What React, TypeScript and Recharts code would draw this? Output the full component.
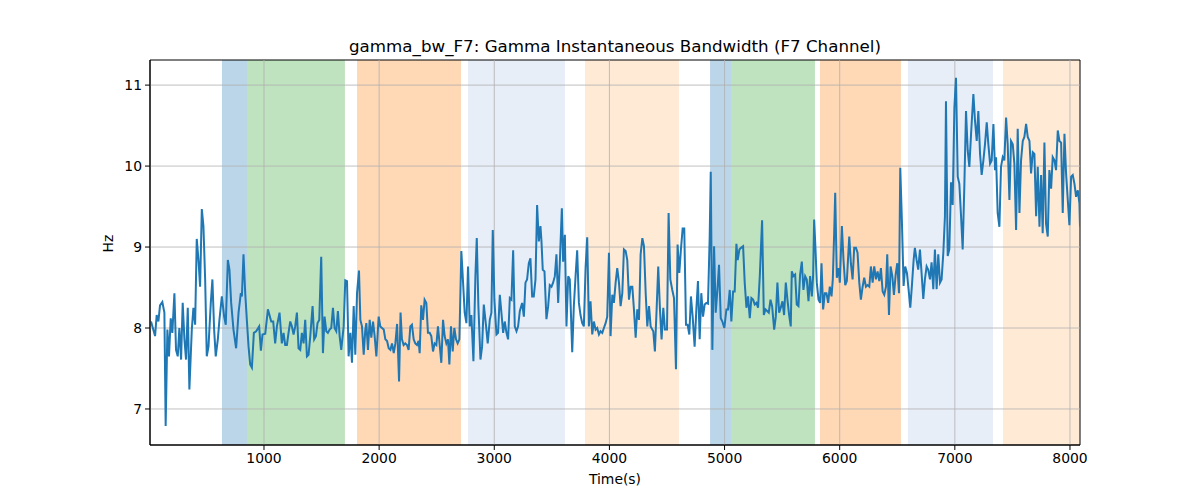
import React from "react";
import { LineChart, Line, XAxis, YAxis, ReferenceArea, ReferenceLine } from "recharts";

// tick labels
const timeTicks = [1000, 2000, 3000, 4000, 5000, 6000, 7000, 8000];
const hzTicks = [7, 8, 9, 10, 11];

// sample times (s)
const times = [
  19, 54, 68, 83, 97, 117, 135, 146, 161, 175, 190, 204, 222, 236, 251, 265, 280, 294, 309, 323,
  338, 352, 373, 387, 402, 416, 431, 445, 460, 474, 489, 503, 518, 538, 552, 567, 581, 599, 613, 634,
  654, 668, 686, 700, 715, 735, 758, 779, 799, 808, 822, 837, 851, 866, 880, 895, 912, 932, 958, 973,
  987, 1011, 1034, 1063, 1080, 1097,
  1112, 1135, 1155, 1170, 1184, 1199, 1213, 1228, 1242, 1257, 1271, 1286, 1300, 1315, 1329, 1344, 1358, 1373, 1387, 1402,
  1422, 1436, 1451, 1465, 1480, 1497, 1512, 1526, 1541, 1555, 1570, 1584, 1599, 1613, 1628, 1642, 1657, 1671, 1692, 1706,
  1721, 1735, 1750, 1764, 1779, 1793, 1808, 1825, 1837, 1851, 1866, 1880, 1889, 1903, 1918, 1932, 1947, 1961, 1976, 1996,
  2010, 2025, 2040, 2054, 2069, 2083, 2098, 2112, 2127, 2141, 2156, 2173,
  2186, 2198, 2213, 2227, 2242, 2256, 2271, 2285, 2300, 2314, 2329, 2343, 2352, 2366, 2381, 2395, 2410, 2424, 2439, 2453,
  2468, 2482, 2497, 2511, 2526, 2540, 2555, 2569, 2584, 2598, 2610, 2624, 2639, 2653, 2668, 2682, 2697, 2714, 2729, 2743,
  2758, 2772, 2787, 2801, 2819, 2836, 2848, 2862, 2880, 2894, 2909, 2929, 2943, 2961, 2975, 2987, 3001, 3019, 3033, 3048,
  3062, 3077, 3091, 3106, 3120, 3135, 3149, 3164, 3178, 3193, 3207, 3222, 3242, 3257, 3271,
  3285, 3300, 3314, 3329, 3343, 3358, 3372, 3387, 3401, 3410, 3421, 3436, 3453, 3468, 3482, 3497, 3511, 3526, 3540, 3555,
  3569, 3587, 3598, 3613, 3627, 3642, 3656, 3677, 3691, 3706, 3720, 3735, 3749, 3764, 3778, 3793, 3807, 3822, 3836, 3851,
  3865, 3880, 3894, 3909, 3923, 3938, 3952, 3967, 3981, 3996, 4010, 4025, 4039, 4054, 4068, 4083, 4097, 4112, 4126, 4141,
  4155, 4170, 4184, 4199, 4213, 4228, 4242, 4257, 4271, 4286, 4300, 4315, 4329, 4344, 4358,
  4381, 4395, 4410, 4424, 4439, 4453, 4468, 4482, 4500, 4514, 4529, 4546, 4561, 4578, 4592, 4607, 4621, 4636, 4650, 4665,
  4679, 4694, 4708, 4723, 4740, 4755, 4769, 4784, 4798, 4813, 4827, 4842, 4856, 4871, 4880, 4894, 4909, 4923, 4938, 4952,
  4967, 4981, 4998, 5016, 5030, 5045, 5059, 5074, 5088, 5103, 5114, 5129, 5143, 5161, 5175, 5190, 5204, 5219, 5233, 5248,
  5262, 5277, 5291, 5306, 5326, 5341, 5355, 5370, 5384, 5399, 5413, 5431,
  5445, 5459, 5474, 5488, 5503, 5517, 5532, 5546, 5561, 5575, 5584, 5598, 5613, 5627, 5642, 5656, 5671, 5685, 5700, 5714,
  5729, 5743, 5758, 5769, 5778, 5790, 5801, 5816, 5830, 5842, 5856, 5871, 5885, 5900, 5914, 5929, 5940, 5952, 5961, 5975,
  5990, 6001, 6019, 6033, 6048, 6062, 6083, 6097, 6112, 6126, 6141, 6155, 6170, 6184, 6199, 6213, 6228, 6242, 6257, 6271,
  6286, 6300, 6315, 6329, 6344, 6358, 6373, 6387, 6402, 6413, 6428, 6442, 6457, 6471, 6486, 6500, 6515, 6526,
  6540, 6555, 6569, 6584, 6598, 6613, 6627, 6642, 6653, 6668, 6682, 6697, 6711, 6726, 6740, 6755, 6769, 6784, 6798, 6813,
  6827, 6842, 6856, 6871, 6885, 6900, 6914, 6923, 6938, 6952, 6967, 6981, 6996, 7010, 7025, 7039, 7054, 7068, 7083, 7097,
  7112, 7126, 7141, 7161, 7175, 7190, 7204, 7219, 7233, 7248, 7262, 7277, 7291, 7306, 7320, 7335, 7349,
  7358, 7372, 7387, 7401, 7416, 7430, 7445, 7459, 7474, 7488, 7503, 7517, 7532, 7546, 7561, 7575, 7590, 7604, 7619, 7633,
  7648, 7662, 7677, 7691, 7706, 7720, 7735, 7749, 7763, 7778, 7792, 7807, 7821, 7836, 7850, 7865, 7879, 7894, 7908, 7923,
  7937, 7952, 7966, 7981, 7995, 8010, 8024, 8039, 8053, 8068, 8082, 8087,
];

// gamma instantaneous bandwidth (Hz)
const bandwidth = [
  8.08, 7.9, 8.16, 8.08, 8.28, 8.32, 8.19, 6.79, 7.98, 7.65, 8.12, 7.94, 8.43, 7.73, 7.65, 8.0, 7.61, 8.31, 7.86, 7.61,
  8.25, 7.24, 7.98, 8.25, 8.04, 9.1, 8.84, 8.51, 9.47, 9.26, 8.6, 7.65, 7.77, 8.31, 8.6, 7.98, 7.65, 7.86, 8.1, 8.39,
  8.14, 8.04, 8.84, 8.72, 8.31, 7.98, 7.75, 8.19, 8.43, 8.39, 8.91, 8.43, 8.1, 7.77, 7.55, 7.51, 7.94, 7.96, 8.02, 7.72,
  7.92, 7.93, 8.23, 8.08, 8.08, 7.81,
  8.02, 8.19, 7.81, 7.94, 7.79, 7.79, 7.94, 8.08, 8.02, 7.92, 8.02, 8.19, 7.75, 7.73, 7.94, 7.81, 8.1, 7.65, 7.67, 7.9,
  8.27, 7.86, 7.9, 8.06, 8.1, 8.88, 7.69, 8.14, 7.96, 7.94, 7.98, 8.0, 8.25, 8.0, 7.96, 8.21, 7.9, 7.73, 8.02, 8.59,
  8.58, 7.65, 7.94, 7.57, 8.27, 7.67, 8.43, 8.71, 8.1, 8.02, 7.67, 7.98, 8.06, 7.73, 8.1, 7.88, 8.08, 7.9, 7.65, 8.14,
  8.02, 8.0, 7.98, 7.86, 7.84, 7.75, 7.73, 7.81, 7.69, 7.81, 8.05, 7.34,
  8.19, 7.86, 7.79, 7.81, 7.79, 7.73, 8.02, 8.04, 7.86, 7.81, 7.79, 7.84, 7.69, 8.28, 8.1, 8.35, 8.31, 7.94, 7.94, 7.9,
  7.71, 7.81, 7.79, 8.02, 7.79, 7.57, 8.1, 7.9, 7.81, 7.86, 7.55, 8.02, 7.71, 8.0, 7.86, 7.81, 7.86, 8.95, 8.56, 8.19,
  8.06, 8.76, 8.02, 8.16, 7.59, 8.64, 9.11, 8.27, 7.61, 7.77, 8.29, 8.02, 7.81, 8.1, 8.19, 9.21, 8.35, 7.92, 7.94, 8.41,
  8.19, 7.94, 8.08, 7.94, 7.86, 8.37, 8.35, 8.96, 8.02, 7.96, 8.02, 8.21, 8.31, 8.14, 8.56,
  8.6, 8.8, 8.86, 8.39, 8.39, 8.6, 9.52, 9.07, 9.26, 9.07, 8.72, 8.7, 8.11, 8.27, 8.53, 8.51, 8.56, 8.64, 8.91, 8.31,
  8.8, 9.48, 8.82, 9.15, 8.02, 8.64, 8.6, 7.7, 8.27, 8.64, 8.96, 8.31, 8.16, 8.06, 8.02, 8.74, 9.12, 8.02, 8.33, 7.92,
  8.08, 7.98, 8.0, 7.92, 7.96, 7.94, 8.0, 8.06, 8.14, 8.93, 7.9, 8.41, 8.31, 8.56, 8.74, 8.56, 8.27, 8.43, 8.97, 8.95,
  8.84, 8.35, 8.51, 8.51, 8.23, 7.88, 8.23, 8.1, 8.91, 9.11, 9.01, 8.43, 8.02, 8.27, 8.02,
  7.96, 7.71, 8.23, 8.76, 8.23, 7.86, 8.25, 7.98, 7.98, 9.42, 8.6, 8.47, 8.37, 7.49, 9.03, 8.68, 8.97, 9.23, 9.23, 8.04,
  8.04, 7.92, 8.39, 8.14, 7.77, 8.23, 8.58, 7.86, 8.43, 8.14, 8.29, 8.31, 8.3, 9.13, 9.93, 7.73, 9.01, 8.19, 8.47, 8.78,
  8.12, 8.08, 8.0, 8.23, 8.23, 8.47, 8.08, 8.45, 8.45, 9.04, 8.84, 8.97, 8.99, 9.01, 8.56, 8.25, 8.39, 8.12, 8.37, 8.35,
  8.29, 8.31, 8.25, 8.64, 9.33, 8.16, 8.23, 8.21, 8.19, 8.35, 8.27, 7.98,
  8.14, 8.56, 8.19, 8.25, 8.33, 8.16, 8.56, 8.35, 8.16, 8.02, 8.7, 8.64, 8.66, 8.29, 8.27, 8.66, 8.82, 8.47, 8.64, 8.6,
  8.33, 8.64, 8.39, 8.64, 9.34, 8.97, 8.56, 8.35, 8.31, 8.8, 8.23, 8.43, 8.43, 8.31, 8.51, 8.39, 8.6, 9.17, 9.67, 8.62,
  8.74, 8.56, 9.26, 8.84, 8.53, 8.58, 9.13, 8.8, 8.6, 8.99, 8.99, 8.93, 8.56, 8.35, 8.51, 8.62, 8.51, 8.53, 8.51, 8.76,
  8.56, 8.76, 8.6, 8.7, 8.58, 8.74, 8.45, 8.41, 8.51, 8.91, 8.16, 8.76, 8.64, 8.41, 8.66, 8.8, 8.43, 9.98,
  9.33, 8.52, 8.76, 8.68, 8.48, 8.25, 8.52, 8.84, 8.99, 8.84, 8.72, 8.97, 8.68, 8.36, 8.6, 8.76, 8.72, 8.6, 8.81, 8.48,
  8.97, 8.48, 8.91, 8.56, 8.6, 8.93, 9.38, 10.8, 8.89, 8.97, 9.8, 9.52, 10.72, 11.09, 9.87, 9.78, 9.38, 8.97, 9.78, 10.68,
  10.19, 9.99, 10.4, 10.89, 10.56, 10.31, 10.68, 10.15, 9.89, 10.07, 10.27, 10.54, 10.27, 10.03, 10.07, 10.52, 9.95,
  10.11, 9.42, 9.25, 9.99, 10.11, 10.07, 10.6, 10.27, 9.58, 10.31, 10.27, 10.03, 9.21, 10.46, 9.42, 10.07, 10.31, 10.36, 10.52, 10.36,
  10.31, 9.91, 10.17, 10.15, 9.38, 9.99, 9.25, 9.89, 9.17, 10.29, 9.29, 9.13, 9.95, 9.72, 10.11, 10.07, 9.95, 10.44, 10.31, 10.29,
  9.42, 10.4, 9.91, 9.58, 9.27, 9.87, 9.89, 9.78, 9.62, 9.7, 9.54, 9.25,
];

// shaded phases
const bandStart = [635, 852, 1808, 2772, 3788, 4874, 5056, 5829, 6593, 7418];
const bandEnd = [852, 1703, 2711, 3614, 4604, 5056, 5785, 6532, 7331, 8087];
const bandPhase = ["a", "b", "c", "d", "e", "a", "b", "c", "d", "e"];

const phaseStyle: Record<string, { fill: string; opacity: number }> = {
  a: { fill: "#1f77b4", opacity: 0.3 },
  b: { fill: "#2ca02c", opacity: 0.3 },
  c: { fill: "#ff7f0e", opacity: 0.3 },
  d: { fill: "#aec7e8", opacity: 0.3 },
  e: { fill: "#ffbb78", opacity: 0.3 },
};

const X_MIN = 10;
const X_MAX = 8087;
const Y_MIN = 6.555;
const Y_MAX = 11.31;

const data = times.map((t, i) => ({ t, hz: bandwidth[i] }));

const font = "'DejaVu Sans', sans-serif";
const gridColor = "#b0b0b0";

export default function App() {
  return (
    <div style={{ position: "relative", width: 1200, height: 500, fontFamily: font }}>
      <style>{`body{margin:0}`}</style>
      <LineChart width={1200} height={500} data={data} margin={{ top: 60, right: 120, bottom: 10, left: 100 }}>
        {bandStart.map((s, i) => (
          <ReferenceArea
            key={`band-${i}`}
            x1={s}
            x2={bandEnd[i]}
            fill={phaseStyle[bandPhase[i]].fill}
            fillOpacity={phaseStyle[bandPhase[i]].opacity}
            stroke="none"
          />
        ))}
        {timeTicks.map((t) => (
          <ReferenceLine key={`gx-${t}`} x={t} stroke={gridColor} strokeWidth={0.8} />
        ))}
        {hzTicks.map((h) => (
          <ReferenceLine key={`gy-${h}`} y={h} stroke={gridColor} strokeWidth={0.8} />
        ))}
        <XAxis
          type="number"
          dataKey="t"
          domain={[X_MIN, X_MAX]}
          ticks={timeTicks}
          allowDataOverflow
          height={45}
          tickSize={5}
          tickMargin={3}
          stroke="#000"
          tick={{ fill: "#000", fontSize: 13.9, fontFamily: font }}
          label={{ value: "Time(s)", position: "insideBottom", offset: 6, fill: "#000", fontSize: 13.9, fontFamily: font }}
        />
        <YAxis
          type="number"
          domain={[Y_MIN, Y_MAX]}
          ticks={hzTicks}
          allowDataOverflow
          width={50}
          tickSize={5}
          tickMargin={3}
          stroke="#000"
          tick={{ fill: "#000", fontSize: 13.9, fontFamily: font }}
          label={{ value: "Hz", angle: -90, position: "insideLeft", offset: 8, fill: "#000", fontSize: 13.9, fontFamily: font }}
        />
        <Line type="linear" dataKey="hz" stroke="#1f77b4" strokeWidth={2} dot={false} isAnimationActive={false} />
        <ReferenceArea x1={X_MIN} x2={X_MAX} fill="none" stroke="#000" strokeWidth={1} />
      </LineChart>
      <div
        style={{
          position: "absolute",
          left: 150,
          width: 930,
          top: 36,
          textAlign: "center",
          fontSize: 16.7,
          lineHeight: "20px",
          color: "#000",
        }}
      >
        gamma_bw_F7: Gamma Instantaneous Bandwidth (F7 Channel)
      </div>
    </div>
  );
}
